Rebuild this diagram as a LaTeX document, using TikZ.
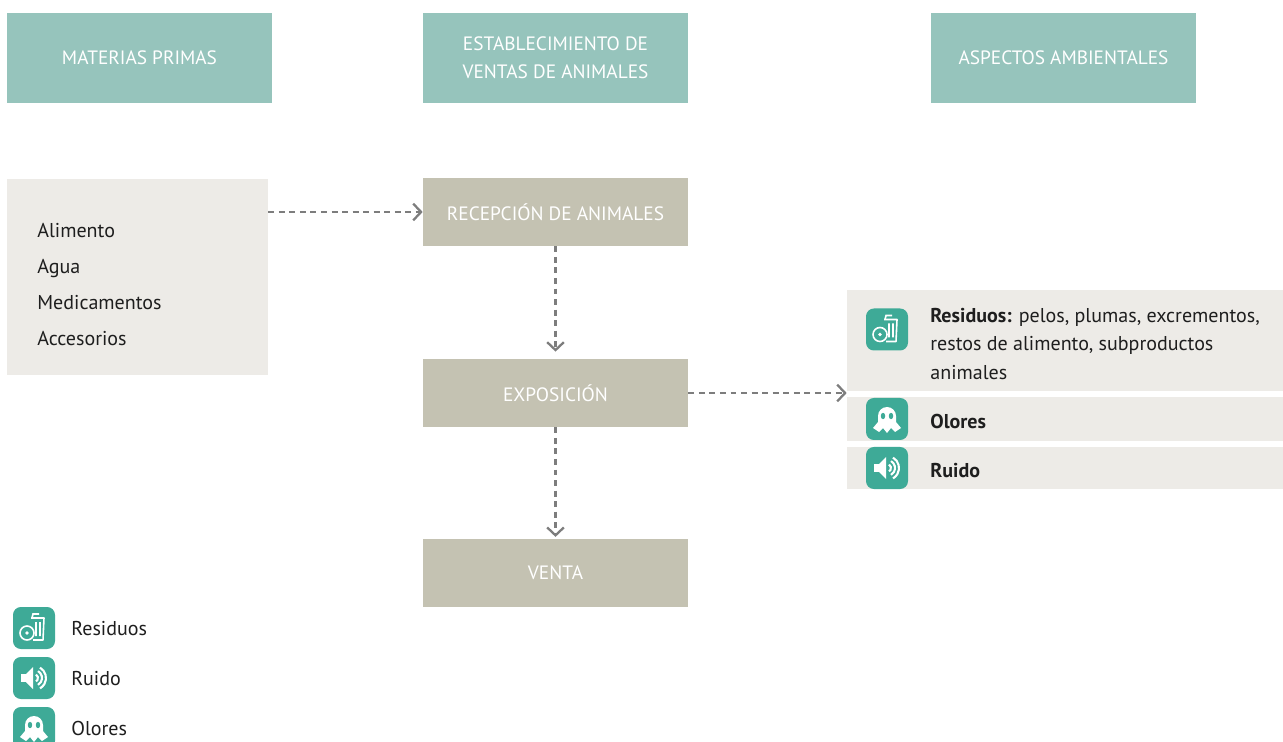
\documentclass[tikz,border=0pt]{standalone}
\usepackage{fontspec}
\setmainfont{PT Sans}
\usetikzlibrary{arrows.meta,positioning}

\definecolor{cabecera}{RGB}{150,196,188}
\definecolor{proceso}{RGB}{196,194,178}
\definecolor{claro}{RGB}{237,235,231}
\definecolor{icono}{RGB}{62,170,151}
\definecolor{flechagris}{RGB}{125,125,125}
\definecolor{texto}{RGB}{30,30,30}

\tikzset{
  pics/residuos/.style={code={
    \fill[icono,rounded corners=4.5pt] (-21,-21) rectangle (21,21);
    \draw[white,line width=0.9pt,line join=round] (-3,-10) -- (10,-10) -- (9,12) -- (-1,12);
    \draw[white,line width=0.9pt] (-2,-10) -- (-1,-14) -- (5,-14) (2,-6) -- (2,8) (6,-6) -- (6,8);
    \draw[white,line width=0.9pt,fill=icono] (-7,5) circle (7);
    \fill[white] (-7,5) circle (1.8);
  }},
  pics/ruido/.style={code={
    \fill[icono,rounded corners=4.5pt] (-21,-21) rectangle (21,21);
    \fill[white] (-13,-4) rectangle (-8,4);
    \fill[white] (-8,-4) -- (-1,-11) -- (-1,11) -- (-8,4) -- cycle;
    \foreach \r in {4,8,12}
      \draw[white,line width=1.2pt] (-60:\r) arc[start angle=-60,end angle=60,radius=\r];
  }},
  pics/olores/.style={code={
    \fill[icono,rounded corners=4.5pt] (-21,-21) rectangle (21,21);
    \fill[white] (-9,-3) arc[start angle=180,end angle=360,radius=9] -- (9,3) -- (14,9)
      -- (8,13) -- (4,9) -- (0,14) -- (-4,9) -- (-8,13) -- (-14,9) -- (-9,3) -- cycle;
    \fill[icono] (-4,-3) ellipse (2.2 and 3.2) (4,-3) ellipse (2.2 and 3.2);
  }},
}

\begin{document}
\begin{tikzpicture}[x=0.02cm,y=-0.02cm,
    font=\fontsize{11.4}{14}\selectfont, text=texto,
    cabeza/.style={fill=cabecera, text=white, minimum width=5.3cm, minimum height=1.8cm,
      inner sep=0pt, align=center, font=\fontsize{11}{16}\selectfont},
    etapa/.style={fill=proceso, text=white, minimum width=5.3cm, minimum height=1.36cm,
      inner sep=0pt, font=\fontsize{11}{14}\selectfont},
    fila/.style={fill=claro, minimum width=8.72cm, inner sep=0pt},
    linea/.style={anchor=west, inner sep=0pt, text height=8pt, text depth=0pt},
    flecha/.style={draw=flechagris, line width=1.2pt, dash pattern=on 3.4pt off 2.6pt,
      -{Straight Barb[length=4.5pt,width=9.5pt,line width=1.3pt]}}]
  \useasboundingbox (0,0) rectangle (1283,742);

  % cabeceras
  \node[cabeza] (hdrMaterias) at (139.5,58) {MATERIAS PRIMAS};
  \node[cabeza] (hdrEstab) at (555.5,58) {ESTABLECIMIENTO DE\\VENTAS DE ANIMALES};
  \node[cabeza] (hdrAspectos) at (1063.5,58) {ASPECTOS AMBIENTALES};

  % materias primas
  \node[fill=claro, minimum width=5.22cm, minimum height=3.92cm, inner sep=0pt] (materias) at (137.5,277) {};
  \foreach \txt [count=\i] in {Alimento,Agua,Medicamentos,Accesorios}
    \node[linea] (mat\i) at (37,194+36*\i) {\txt};

  % etapas
  \node[etapa] (recepcion) at (555.5,212) {RECEPCIÓN DE ANIMALES};
  \node[etapa] (exposicion) at (555.5,393) {EXPOSICIÓN};
  \node[etapa] (venta) at (555.5,573) {VENTA};

  % aspectos ambientales
  \node[fila, minimum height=2.02cm] (residuosBox) at (1065,340.5) {};
  \node[fila, minimum height=0.88cm] (oloresBox) at (1065,419) {};
  \node[fila, minimum height=0.84cm] (ruidoBox) at (1065,468) {};
  \pic (icoResiduos) at (887,329.5) {residuos};
  \pic (icoOlores) at (887,419) {olores};
  \pic (icoRuido) at (887,468) {ruido};
  \node[anchor=west, inner sep=0pt, align=left, font=\fontsize{11.4}{16.4}\selectfont] (txtResiduos) at (930,344)
    {\textbf{Residuos:} pelos, plumas, excrementos,\\restos de alimento, subproductos\\animales};
  \node[linea] (txtOlores) at (930,421) {\textbf{Olores}};
  \node[linea] (txtRuido) at (930,470) {\textbf{Ruido}};

  % flechas
  \draw[flecha] (materias.east |- recepcion.west) -- (recepcion.west);
  \draw[flecha, shorten >=4pt] (recepcion.south) -- (exposicion.north);
  \draw[flecha, shorten >=1pt] (exposicion.south) -- (venta.north);
  \draw[flecha] (exposicion.east) -- (exposicion.east -| residuosBox.west);

  % leyenda
  \foreach \ico/\txt [count=\i] in {residuos/Residuos,ruido/Ruido,olores/Olores}{
    \pic (ley\i) at (34,578+50*\i) {\ico};
    \node[linea] (leyTxt\i) at (71,578+50*\i) {\txt};
  }
\end{tikzpicture}
\end{document}
